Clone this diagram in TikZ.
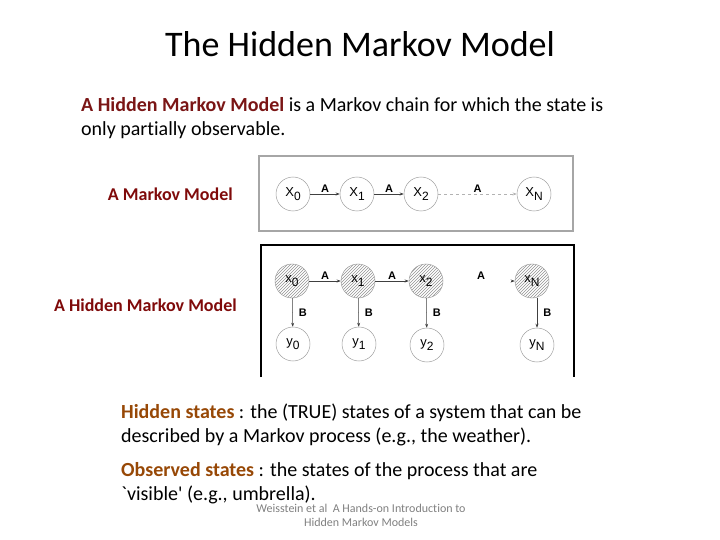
\documentclass[tikz,border=0pt]{standalone}
\usepackage{fontspec}
\setmainfont[Ligatures={TeX,NoCommon}]{Carlito}
\newfontfamily\helv{Liberation Sans}
\usetikzlibrary{patterns,arrows.meta}
\definecolor{darkred}{HTML}{7A1515}
\definecolor{labelred}{HTML}{7F0A0A}
\definecolor{brownish}{HTML}{974806}
\newcommand\lsub[1]{\raisebox{-0.55ex}{\fontsize{12}{12}\selectfont #1}}
\begin{document}
\begin{tikzpicture}[x=1pt,y=-1pt,
  state/.style={circle, draw=gray!75, line width=0.5pt, minimum size=34pt, inner sep=0pt,
                font=\helv\fontsize{13}{13}\selectfont},
  hid/.style={state, pattern=north east lines, pattern color=gray!85},
  arr/.style={-{Stealth[length=4pt,width=3pt]}, draw=gray!50!black, line width=0.5pt},
  darr/.style={arr, dashed, draw=gray!60},
  elab/.style={font=\helv\bfseries\fontsize{11}{11}\selectfont, inner sep=1pt},
  txt/.style={anchor=base west, inner sep=0pt, font=\fontsize{20}{24}\selectfont},
  side/.style={anchor=base east, inner sep=0pt, text=labelred, font=\bfseries\fontsize{18}{20}\selectfont}]
\useasboundingbox (0,0) rectangle (720,540);

% title
\node[anchor=base, inner sep=0pt, font=\fontsize{36}{42}\selectfont] (title) at (360,57) {The Hidden Markov Model};

% intro
\node[txt] (p1) at (81,112) {\textcolor{darkred}{\textbf{A Hidden Markov Model}} is a Markov chain for which the state is};
\node[txt] (p2) at (81,136) {only partially observable.};

% side labels
\node[side] (lm) at (233,201) {A Markov Model};
\node[side] (lh) at (237,311) {A Hidden Markov Model};

% box 1: Markov model
\draw[gray!70, line width=1.5pt] (259,156) rectangle (573,231);
\node[state] (a0) at (293,194) {X\lsub{0}};
\node[state] (a1) at (357,194) {X\lsub{1}};
\node[state] (a2) at (421,194) {X\lsub{2}};
\node[state] (aN) at (534,194) {X\lsub{N}};
\draw[arr] (a0) -- node[elab, above] {A} (a1);
\draw[arr] (a1) -- node[elab, above] {A} (a2);
\draw[darr] (a2) -- node[elab, above] {A} (aN);

% box 2: hidden Markov model
\draw[black, line width=1.2pt] (261,377) -- (261,245) -- (574,245) -- (574,377);
\node[hid] (h0) at (292,281) {x\lsub{0}};
\node[hid] (h1) at (358,281) {x\lsub{1}};
\node[hid] (h2) at (426,281) {x\lsub{2}};
\node[hid] (hN) at (532,281) {x\lsub{N}};
\node[state] (y0) at (293,344) {y\lsub{0}};
\node[state] (y1) at (359,344) {y\lsub{1}};
\node[state] (y2) at (427,345) {y\lsub{2}};
\node[state] (yN) at (537,345) {y\lsub{N}};
\draw[arr] (h0) -- node[elab, above] {A} (h1);
\draw[arr] (h1) -- node[elab, above] {A} (h2);
\node[elab] (aLab) at (481,276) {A};
\coordinate (hd) at (511,281);
\draw[arr] (hd) -- (hN);
\draw[arr] (h0) -- node[elab, right=5pt] {B} (y0);
\draw[arr] (h1) -- node[elab, right=5pt] {B} (y1);
\draw[arr] (h2) -- node[elab, right=5pt] {B} (y2);
\draw[arr] (hN.south -| yN.north) -- node[elab, right=5pt] {B} (yN);

% explanations
\node[txt] (s1) at (121,418) {\textcolor{brownish}{\textbf{Hidden states}} : the (TRUE) states of a system that can be};
\node[txt] (s2) at (121,442) {described by a Markov process (e.g., the weather).};
\node[txt] (o1) at (121,476) {\textcolor{brownish}{\textbf{Observed states}} : the states of the process that are};
\node[txt] (o2) at (121,500) {\textasciigrave visible\textquotesingle{} (e.g., umbrella).};

% citation
\node[anchor=base, inner sep=0pt, text=gray, font=\fontsize{12}{14}\selectfont] (c1) at (361,512) {Weisstein et al\ \ A Hands-on Introduction to};
\node[anchor=base, inner sep=0pt, text=gray, font=\fontsize{12}{14}\selectfont] (c2) at (361,526) {Hidden Markov Models};
\end{tikzpicture}
\end{document}
